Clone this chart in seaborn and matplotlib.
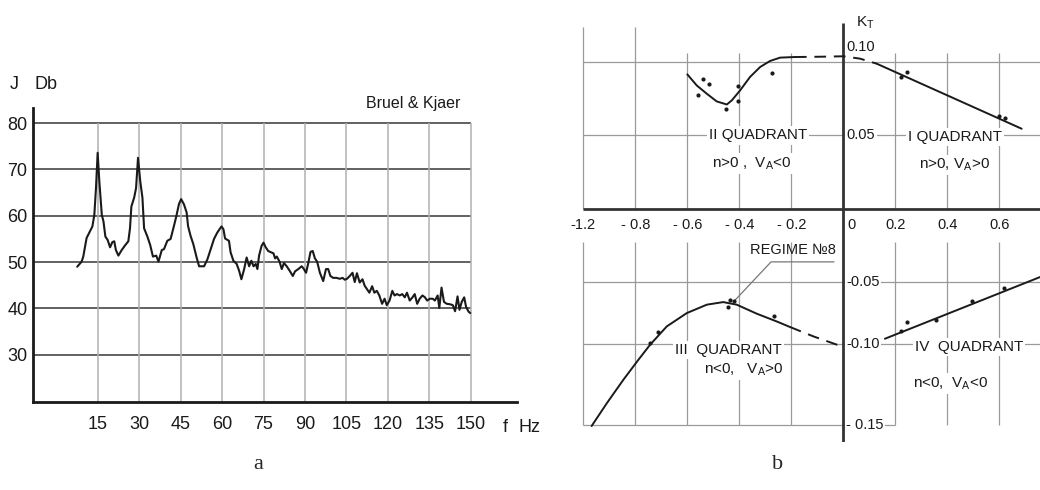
import numpy as np
import matplotlib
matplotlib.use('Agg')
import matplotlib.pyplot as plt
import seaborn as sns

sns.set_style('white')
plt.rcParams['font.family'] = ['Liberation Sans Narrow', 'Liberation Sans', 'DejaVu Sans']
plt.rcParams['mathtext.default'] = 'regular'

# ---------- (a) spectrum, Bruel & Kjaer ----------
freq_hz = [7.6, 9.2, 9.8, 11.0, 12.2, 13.1, 13.8, 14.4, 15.0, 15.6, 16.5, 17.1, 17.8, 18.6,
           19.5, 20.3, 21.0, 21.6, 22.5, 23.7, 24.9, 26.1, 26.7, 27.2, 28.2, 28.9, 29.6, 30.4,
           31.2, 31.8, 33.0, 34.0, 35.0, 36.2, 37.0, 38.2, 39.0, 40.2, 41.4, 42.6, 43.5, 44.4,
           45.2, 46.2, 47.2, 47.7, 48.6, 49.6, 50.8, 51.7, 53.5, 54.7, 55.9, 57.1, 58.3, 59.8,
           60.5, 61.1, 62.5, 63.1, 64.1, 65.3, 66.2, 67.0, 68.0, 68.9, 69.8, 70.6, 71.4, 72.2,
           72.8, 73.4, 74.3, 75.0, 75.8, 76.7, 77.4, 78.6, 79.2, 79.8, 80.8, 81.6, 82.4, 83.4,
           84.6, 85.6, 86.4, 87.6, 88.8, 89.4, 90.4, 91.2, 92.0, 92.8, 93.6, 94.4, 95.4, 96.6,
           97.6, 98.4, 99.2, 100.2, 101.4, 102.6, 103.6, 104.4, 105.2, 106.2, 107.2, 108.0,
           108.8, 109.8, 110.8, 111.6, 112.4, 113.3, 114.3, 115.1, 116.0, 116.9, 117.9, 118.8,
           119.6, 120.6, 121.6, 122.4, 123.3, 124.3, 125.2, 126.1, 126.9, 127.9, 128.9, 129.7,
           130.6, 131.5, 132.5, 133.4, 134.2, 135.2, 136.2, 137.0, 138.0, 138.6, 139.4, 140.3,
           141.3, 142.5, 143.5, 144.3, 145.2, 145.9, 146.7, 147.6, 148.3, 149.2, 149.8]
level_db = [49.0, 50.1, 51.2, 55.2, 56.6, 57.7, 60.2, 66.0, 73.6, 67.5, 60.2, 58.8, 55.5, 54.8,
            53.2, 54.3, 54.5, 52.6, 51.4, 52.6, 53.6, 54.5, 57.3, 62.0, 63.9, 66.0, 72.5, 67.5,
            63.9, 57.3, 55.5, 53.7, 51.2, 51.4, 50.1, 52.6, 52.8, 54.6, 55.0, 57.8, 60.0, 62.5,
            63.6, 62.5, 60.7, 57.8, 55.7, 53.9, 51.0, 49.1, 49.1, 50.6, 52.8, 55.0, 56.4, 57.7,
            57.1, 55.1, 54.6, 52.1, 50.3, 49.6, 48.1, 46.3, 48.5, 51.0, 49.1, 50.3, 49.1, 49.6,
            48.5, 51.4, 53.5, 54.2, 53.2, 52.4, 52.2, 51.9, 50.8, 51.2, 50.1, 48.5, 49.8, 49.1,
            48.0, 47.0, 48.0, 48.5, 49.1, 48.7, 47.7, 49.8, 52.2, 52.4, 50.8, 50.1, 47.7, 45.9,
            48.5, 48.5, 47.0, 46.6, 46.6, 46.4, 46.6, 46.2, 46.4, 47.0, 47.7, 45.7,
            47.6, 45.6, 46.3, 44.9, 44.2, 43.4, 44.8, 43.4, 43.8, 42.8, 41.0, 42.1,
            40.7, 41.7, 43.8, 42.8, 43.1, 42.8, 43.1, 42.4, 43.4, 41.7, 42.4, 43.1,
            41.0, 42.1, 42.8, 42.4, 41.7, 42.1, 42.1, 41.7, 42.8, 40.1, 44.5, 41.4,
            41.0, 40.9, 40.7, 39.4, 42.6, 39.7, 41.4, 42.4, 40.3, 39.3, 39.0]
db_ticks = [30, 40, 50, 60, 70, 80]
hz_ticks = [15, 30, 45, 60, 75, 90, 105, 120, 135, 150]

# ---------- (b) K_T in four quadrants ----------
kt_x_ticks = [-1.2, -0.8, -0.6, -0.4, -0.2, 0, 0.2, 0.4, 0.6]
kt_x_labels = ['-1.2', '- 0.8', '- 0.6', '- 0.4', '- 0.2', '0', '0.2', '0.4', '0.6']
kt_y_ticks = [0.10, 0.05, -0.05, -0.10, -0.15]
kt_y_labels = ['0.10', '0.05', '-0.05', '-0.10', '- 0.15']

q2_x = [-0.600, -0.564, -0.525, -0.487, -0.448, -0.429, -0.397, -0.359, -0.320, -0.282, -0.243, -0.186]
q2_y = [0.0916, 0.0841, 0.0784, 0.0732, 0.0711, 0.0739, 0.0807, 0.0898, 0.0966, 0.1007, 0.1030, 0.1034]
q12_dash_x = [-0.186, -0.09, 0.0, 0.064, 0.128]
q12_dash_y = [0.1034, 0.1036, 0.1039, 0.1023, 0.0989]
q1_x = [0.128, 0.686]
q1_y = [0.0989, 0.0546]
q3_x = [-1.136, -1.020, -0.892, -0.788, -0.743, -0.679, -0.602, -0.525, -0.462, -0.410, -0.333, -0.256, -0.205]
q3_y = [-0.1506, -0.1366, -0.1220, -0.1096, -0.1003, -0.0856, -0.0748, -0.0680, -0.0659, -0.0680, -0.0753, -0.0816, -0.0861]
q34_dash_x = [-0.205, -0.115, -0.025, 0.0]
q34_dash_y = [-0.0861, -0.0937, -0.1003, -0.1010]
q4_x = [0.160, 0.757]
q4_y = [-0.0956, -0.0463]
pts_x = [-0.560, -0.541, -0.517, -0.451, -0.406, -0.406, -0.273, 0.221, 0.246, 0.600, 0.622,
         -0.743, -0.712, -0.445, -0.436, -0.419, -0.265, 0.222, 0.244, 0.357, 0.494, 0.619]
pts_y = [0.0773, 0.0887, 0.0853, 0.0682, 0.0836, 0.0732, 0.0928, 0.0898, 0.0932, 0.0636, 0.0621,
         -0.0990, -0.0901, -0.0699, -0.0640, -0.0648, -0.0775, -0.0891, -0.0821, -0.0803, -0.0649, -0.0541]

# the drawn axes of (b) are not uniform: -1.2 sits one step left of -0.8,
# and the lower y gridlines are not evenly spaced
x_knots = [-2.0, -1.2, -0.8, 2.0]
x_drawn = [-1.4, -1.0, -0.8, 2.0]
y_knots = [-0.30, -0.15, -0.10, -0.05, 0, 0.05, 0.10, 0.30]
y_drawn = [-0.312, -0.147, -0.092, -0.050, 0, 0.050, 0.100, 0.300]

grid_c = '#9a9a9a'
ink = '#1a1a1a'

fig = plt.figure(figsize=(10.4, 4.9), dpi=100)

# ===== panel a =====
ax = fig.add_axes([0.0317, 0.180, 0.4654, 0.599])
ax.set_xlim(-8.4, 166.7)
ax.set_ylim(19.85, 83.2)
ax.hlines(db_ticks, -8.4, 150, color='#555555', lw=1.3, zorder=1)
ax.vlines(hz_ticks, 19.85, 80, color='#b0b0b0', lw=1.1, zorder=1)
sns.lineplot(x=freq_hz, y=level_db, ax=ax, color=ink, lw=1.5, estimator=None, sort=False, zorder=3)
for s in ['top', 'right']:
    ax.spines[s].set_visible(False)
for s in ['left', 'bottom']:
    ax.spines[s].set_color(ink)
    ax.spines[s].set_linewidth(2)
ax.set_xticks(hz_ticks)
ax.set_yticks(db_ticks)
ax.tick_params(axis='both', length=0, labelsize=13, colors=ink)
ax.tick_params(axis='x', pad=10)
ax.tick_params(axis='y', pad=4)
ax.text(-15.2, 88.3, 'J', fontsize=13, ha='center', va='center', color=ink, clip_on=False)
ax.text(-3.7, 88.3, 'Db', fontsize=13, ha='center', va='center', color=ink, clip_on=False)
ax.text(129.2, 84.3, 'Bruel & Kjaer', fontsize=11.5, ha='center', va='center', color=ink, clip_on=False)
ax.text(162.3, 14.4, 'f', fontsize=13, ha='center', va='center', color=ink, clip_on=False)
ax.text(171.4, 14.4, 'Hz', fontsize=13, ha='center', va='center', color=ink, clip_on=False)

# ===== panel b =====
bx = fig.add_axes([0.5529, 0.098, 0.4471, 0.8714])
bx.set_xscale('function', functions=(lambda v: np.interp(v, x_knots, x_drawn),
                                     lambda p: np.interp(p, x_drawn, x_knots)))
bx.set_yscale('function', functions=(lambda v: np.interp(v, y_knots, y_drawn),
                                     lambda p: np.interp(p, y_drawn, y_knots)))
xmax = 0.7565
bx.set_xlim(-1.264, xmax)
bx.set_ylim(-0.1605, 0.132)
for s in bx.spines.values():
    s.set_visible(False)
bx.set_xticks([])
bx.set_yticks([])
bx.patch.set_alpha(0)

# gridlines
bx.hlines([0.10, 0.05, -0.05, -0.10], -1.2, xmax, color=grid_c, lw=0.9, zorder=1)
bx.hlines(-0.15, -1.2, 0.2, color=grid_c, lw=0.9, zorder=1)
for xv in kt_x_ticks:
    if xv == 0:
        continue
    top = 0.1235 if xv in (-1.2, -0.8) else 0.106
    bx.vlines(xv, 0, top, color=grid_c, lw=0.9, zorder=1)
    bx.vlines(xv, -0.15, -0.0224, color=grid_c, lw=0.9, zorder=1)

# axes through the origin
bx.hlines(0, -1.2, xmax, color='#333333', lw=2, zorder=2)
bx.vlines(0, -0.1605, 0.1265, color='#333333', lw=2, zorder=2)

# curves
sns.lineplot(x=q2_x, y=q2_y, ax=bx, color=ink, lw=1.4, estimator=None, sort=False, zorder=4)
sns.lineplot(x=q12_dash_x, y=q12_dash_y, ax=bx, color=ink, lw=1.4, ls=(0, (6, 4)),
             estimator=None, sort=False, zorder=4)
sns.lineplot(x=q1_x, y=q1_y, ax=bx, color=ink, lw=1.4, estimator=None, sort=False, zorder=4)
sns.lineplot(x=q3_x, y=q3_y, ax=bx, color=ink, lw=1.4, estimator=None, sort=False, zorder=4)
sns.lineplot(x=q34_dash_x, y=q34_dash_y, ax=bx, color=ink, lw=1.4, ls=(0, (6, 4)),
             estimator=None, sort=False, zorder=4)
sns.lineplot(x=q4_x, y=q4_y, ax=bx, color=ink, lw=1.4, estimator=None, sort=False, zorder=4)
sns.scatterplot(x=pts_x, y=pts_y, ax=bx, color=ink, s=9, linewidth=0, zorder=5)

# tick labels
for xv, lab in zip(kt_x_ticks, kt_x_labels):
    bx.text(xv + (0.03 if xv == 0 else 0), -0.011, lab, fontsize=10.5, ha='center',
            va='center', color=ink)
for yv, lab in zip(kt_y_ticks, kt_y_labels):
    bx.text(0.012, yv + (0.0105 if yv == 0.10 else 0), lab, fontsize=10.5, ha='left',
            va='center', color=ink, zorder=3,
            bbox=dict(facecolor='white', edgecolor='none', pad=1))
bx.text(0.083, 0.127, '$K_T$', fontsize=11, ha='center', va='center', color=ink)

# quadrant notes
box = dict(facecolor='white', edgecolor='none', pad=1.5)
notes = [(-0.328, 0.050, 'II QUADRANT'), (-0.353, 0.031, 'n>0 ,  V$_A$<0'),
         (0.43, 0.049, 'I QUADRANT'), (0.428, 0.030, 'n>0, V$_A$>0'),
         (-0.443, -0.1034, 'III  QUADRANT'), (-0.382, -0.1158, 'n<0,   V$_A$>0'),
         (0.484, -0.1017, 'IV  QUADRANT'), (0.414, -0.1243, 'n<0,  V$_A$<0')]
for xv, yv, lab in notes:
    bx.text(xv, yv, lab, fontsize=11, ha='center', va='center', color=ink, zorder=3, bbox=box)

bx.plot([-0.036, -0.278, -0.419], [-0.036, -0.036, -0.0649], color='#777777', lw=0.9, zorder=3)
bx.text(-0.193, -0.0278, 'REGIME №8', fontsize=10.5, ha='center', va='center', color=ink)

fig.text(0.248, 0.053, 'a', fontsize=16, family='Liberation Serif', ha='center', va='center')
fig.text(0.748, 0.053, 'b', fontsize=16, family='Liberation Serif', ha='center', va='center')

fig.savefig('out.png', dpi=100, facecolor='white')
